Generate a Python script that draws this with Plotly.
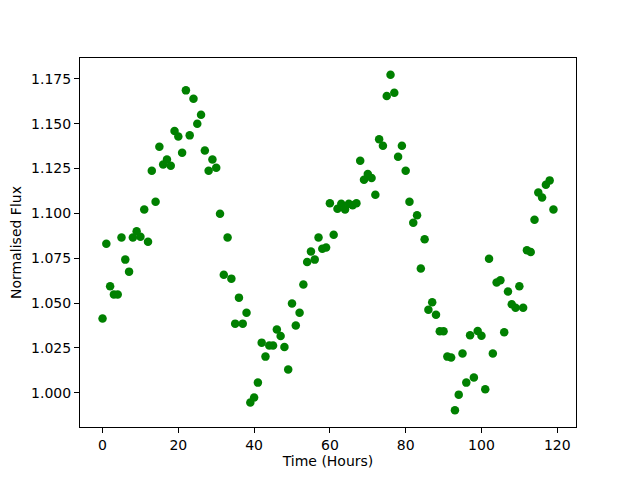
import plotly.graph_objects as go

hours = list(range(120))
flux = [
    1.0413, 1.0831, 1.0593, 1.0547, 1.0547, 1.0865, 1.0742, 1.0675, 1.0865, 1.0900,
    1.0870, 1.1021, 1.0842, 1.1238, 1.1065, 1.1372, 1.1273, 1.1301, 1.1266, 1.1459,
    1.1429, 1.1338, 1.1686, 1.1435, 1.1639, 1.1500, 1.1550, 1.1351, 1.1238, 1.1301,
    1.1255, 1.0998, 1.0658, 1.0865, 1.0636, 1.0385, 1.0530, 1.0385, 1.0446, 0.9945,
    0.9973, 1.0056, 1.0279, 1.0201, 1.0263, 1.0263, 1.0352, 1.0316, 1.0255, 1.0129,
    1.0497, 1.0374, 1.0446, 1.0603, 1.0729, 1.0787, 1.0742, 1.0865, 1.0803, 1.0809,
    1.1056, 1.0881, 1.1026, 1.1054, 1.1022, 1.1054, 1.1045, 1.1057, 1.1294, 1.1188,
    1.1219, 1.1197, 1.1104, 1.1413, 1.1377, 1.1654, 1.1773, 1.1673, 1.1316, 1.1377,
    1.1238, 1.1065, 1.0948, 1.0989, 1.0692, 1.0855, 1.0463, 1.0504, 1.0435, 1.0342,
    1.0342, 1.0201, 1.0196, 0.9902, 0.9989, 1.0218, 1.0056, 1.0320, 1.0084, 1.0344,
    1.0318, 1.0019, 1.0747, 1.0218, 1.0614, 1.0627, 1.0337, 1.0564, 1.0493, 1.0474,
    1.0593, 1.0474, 1.0794, 1.0784, 1.0965, 1.1117, 1.1088, 1.1160, 1.1184, 1.1021,
]

x_ticks = [0, 20, 40, 60, 80, 100, 120]
y_ticks = [1.000, 1.025, 1.050, 1.075, 1.100, 1.125, 1.150, 1.175]

xmin, xmax = min(hours), max(hours)
ymin, ymax = min(flux), max(flux)
xpad = (xmax - xmin) * 0.05
ypad = (ymax - ymin) * 0.05

fig = go.Figure()
fig.add_trace(go.Scatter(
    x=hours, y=flux, mode="markers",
    marker=dict(color="#008000", size=8.5, line=dict(width=0)),
    showlegend=False,
))

FONT = "DejaVu Sans"
axis_common = dict(
    showline=True, linecolor="black", linewidth=1, mirror=True,
    ticks="outside", ticklen=5, tickwidth=1, tickcolor="black",
    showgrid=False, zeroline=False,
    tickfont=dict(family=FONT, size=14, color="black"),
)

fig.update_layout(
    width=640, height=480,
    paper_bgcolor="white", plot_bgcolor="white",
    margin=dict(l=80, r=64, t=58, b=53),
    font=dict(family=FONT, size=14, color="black"),
    xaxis=dict(
        range=[xmin - xpad, xmax + xpad],
        tickvals=x_ticks, ticktext=[str(t) for t in x_ticks],
        title=dict(text="Time (Hours)", font=dict(family=FONT, size=14), standoff=4),
        **axis_common,
    ),
    yaxis=dict(
        range=[ymin - ypad, ymax + ypad],
        tickvals=y_ticks, ticktext=[f"{t:.3f}" for t in y_ticks],
        title=dict(text="Normalised Flux", font=dict(family=FONT, size=14), standoff=6),
        **axis_common,
    ),
)

fig.write_html("out.html", config={"displayModeBar": False})

with open("out.html", "r", encoding="utf-8") as f:
    html = f.read()
html = html.replace("<body>", '<body style="margin:0;padding:0;">', 1)
with open("out.html", "w", encoding="utf-8") as f:
    f.write(html)
